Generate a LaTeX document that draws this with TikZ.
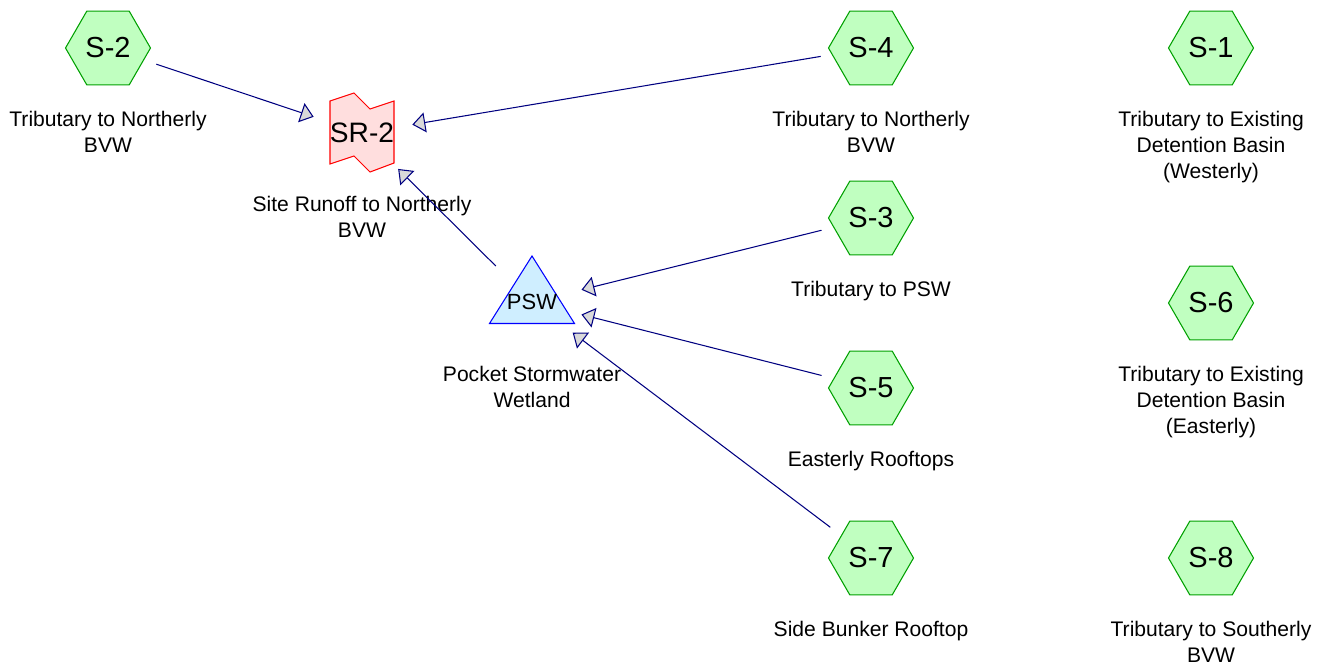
\documentclass[tikz,border=0pt]{standalone}
\usepackage{fontspec}
\setmainfont{Liberation Sans}
\usepackage{xcolor}
\definecolor{subFill}{HTML}{C0FFC0}
\definecolor{subLine}{HTML}{00A000}
\definecolor{reachFill}{HTML}{FFDEDE}
\definecolor{pondFill}{HTML}{CFEEFF}
\definecolor{linkLine}{HTML}{000080}
\usepackage{tikz}
\usetikzlibrary{arrows.meta,positioning,shapes.geometric}

\begin{document}
\begin{tikzpicture}[x=0.02cm,y=-0.02cm,
  subcat/.style={regular polygon,regular polygon sides=6,minimum size=1.7cm,
    inner sep=0pt,draw=subLine,fill=subFill,line width=0.6pt,
    font=\fontsize{16.5}{18}\selectfont},
  pond/.style={draw=blue,fill=pondFill,line width=0.6pt,line join=miter},
  reach/.style={draw=red,fill=reachFill,line width=0.6pt,line join=miter},
  lbl/.style={align=center,inner sep=0pt,font=\fontsize{12}{14.7}\selectfont},
  flow/.style={draw=linkLine,line width=0.6pt,shorten <=1.02cm,shorten >=1.02cm,
    -{Triangle[length=2.6mm,width=4mm,fill=black!15,line join=miter]}}]
  \useasboundingbox (0,0) rectangle (1325,666);
  % subcatchments
  \node[subcat] (s2) at (108,48) {S-2};
  \node[subcat] (s4) at (871,48) {S-4};
  \node[subcat] (s1) at (1211,48) {S-1};
  \node[subcat] (s3) at (871,218) {S-3};
  \node[subcat] (s6) at (1211,303) {S-6};
  \node[subcat] (s5) at (871,388) {S-5};
  \node[subcat] (s7) at (871,558) {S-7};
  \node[subcat] (s8) at (1211,558) {S-8};
  % reach
  \draw[reach,shift={(362,133)}] (-32,-32)--(-8,-40)--(8,-24)--(32,-32)
    --(32,30)--(8,39)--(-8,23)--(-32,31)--cycle;
  \node[inner sep=0pt,font=\fontsize{16}{18}\selectfont] (sr2) at (362,133) {SR-2};
  % pond
  \draw[pond,shift={(532,301)}] (0,-45)--(42.5,22.5)--(-42.5,22.5)--cycle;
  \node[inner sep=0pt,font=\fontsize{12.5}{14}\selectfont] (psw) at (532,302) {PSW};
  % labels
  \node[lbl,below=1.26cm of s2.center] (s2lbl) {Tributary to Northerly\\BVW};
  \node[lbl,below=1.26cm of s4.center] (s4lbl) {Tributary to Northerly\\BVW};
  \node[lbl,below=1.26cm of s1.center] (s1lbl) {Tributary to Existing\\Detention Basin\\(Westerly)};
  \node[lbl,below=1.26cm of s3.center] (s3lbl) {Tributary to PSW};
  \node[lbl,below=1.26cm of s6.center] (s6lbl) {Tributary to Existing\\Detention Basin\\(Easterly)};
  \node[lbl,below=1.26cm of s5.center] (s5lbl) {Easterly Rooftops};
  \node[lbl,below=1.26cm of s7.center] (s7lbl) {Side Bunker Rooftop};
  \node[lbl,below=1.26cm of s8.center] (s8lbl) {Tributary to Southerly\\BVW};
  \node[lbl,below=1.26cm of sr2.center] (sr2lbl) {Site Runoff to Northerly\\BVW};
  \node[lbl,below=1.28cm of psw.center] (pswlbl) {Pocket Stormwater\\Wetland};
  % routing
  \draw[flow] (s2.center)--(sr2.center);
  \draw[flow] (s4.center)--(sr2.center);
  \draw[flow] (psw.center)--(sr2.center);
  \draw[flow] (s3.center)--(psw.center);
  \draw[flow] (s5.center)--(psw.center);
  \draw[flow] (s7.center)--(psw.center);
\end{tikzpicture}
\end{document}
